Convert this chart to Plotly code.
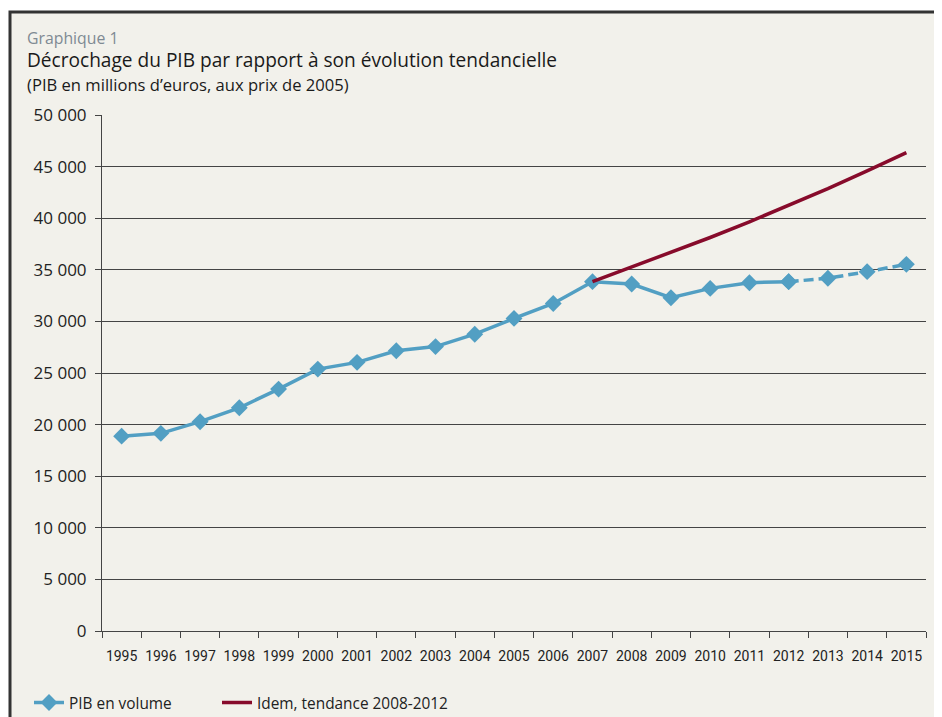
import plotly.graph_objects as go

years = [str(y) for y in range(1995, 2016)]
pib = [18880, 19150, 20280, 21630, 23440, 25380, 26030, 27150, 27560, 28760,
       30290, 31740, 33850, 33620, 32290, 33200, 33750, 33850, 34180, 34820, 35530]
trend_years = [str(y) for y in range(2007, 2016)]
trend = [33850, 35265, 36670, 38130, 39650, 41230, 42870, 44580, 46350]

solid_years = years[:18]
solid_vals = pib[:18]
dash_years = years[17:]
dash_vals = pib[17:]

BLUE = "#529fc3"
RED = "#870b2b"
BG = "#f2f1eb"
OFF = 8  # page body margin
W, H = 942 - OFF, 717 - OFF
L, R, T, B = 94, 16, 107, 86
PW, PH = W - L - R, H - T - B

def px(xs):
    return (xs - OFF - L) / PW

def py(ys):
    return (H - B - (ys - OFF)) / PH

TXT = "'Open Sans', Roboto, 'DejaVu Sans', sans-serif"

fig = go.Figure()
fig.add_trace(go.Scatter(x=solid_years, y=solid_vals, mode="lines+markers",
                         name="PIB en volume", legend="legend",
                         line=dict(color=BLUE, width=3.5),
                         marker=dict(symbol="diamond", size=13, color=BLUE)))
fig.add_trace(go.Scatter(x=dash_years, y=dash_vals, mode="lines+markers",
                         showlegend=False,
                         line=dict(color=BLUE, width=3.5, dash="10px,5px"),
                         marker=dict(symbol="diamond", size=13, color=BLUE)))
fig.add_trace(go.Scatter(x=trend_years, y=trend, mode="lines",
                         name="Idem, tendance 2008-2012", legend="legend2",
                         line=dict(color=RED, width=3.5)))

fig.add_shape(type="rect", xref="paper", yref="paper",
              x0=px(10), x1=px(960), y0=py(740), y1=py(12),
              fillcolor=BG, line=dict(color="#333333", width=3), layer="below")

fig.add_annotation(text="Graphique 1", xref="paper", yref="paper",
                   x=px(25), y=py(38), xanchor="left", yanchor="middle",
                   showarrow=False, font=dict(family=TXT, size=15.8, color="#7f8a93"))
fig.add_annotation(text="Décrochage du PIB par rapport à son évolution tendancielle",
                   xref="paper", yref="paper", x=px(25), y=py(60),
                   xanchor="left", yanchor="middle", showarrow=False,
                   font=dict(family=TXT, size=19.1, color="#1a1a1a"))
fig.add_annotation(text="(PIB en millions d’euros, aux prix de 2005)",
                   xref="paper", yref="paper", x=px(25), y=py(85),
                   xanchor="left", yanchor="middle", showarrow=False,
                   font=dict(family=TXT, size=16.6, color="#1a1a1a"))

leg_common = dict(orientation="h", yanchor="middle", y=py(703), xanchor="left",
                  bgcolor="rgba(0,0,0,0)", font=dict(family=TXT, size=15.4, color="#222222"))

fig.update_layout(
    width=W, height=H,
    margin=dict(l=L, r=R, t=T, b=B, pad=0, autoexpand=False),
    paper_bgcolor="white", plot_bgcolor="rgba(0,0,0,0)",
    separators=", ",
    font=dict(family=TXT, color="#222222"),
    showlegend=True,
    legend=dict(x=px(29), **leg_common),
    legend2=dict(x=px(217), **leg_common),
    xaxis=dict(type="category", categoryorder="array", categoryarray=years,
               range=[-0.5, 20.5],
               tickson="boundaries", ticks="outside", ticklen=6, tickcolor="#444444",
               showline=True, linecolor="#444444", linewidth=1, showgrid=False,
               tickangle=0, ticklabelstandoff=12,
               tickfont=dict(family="Roboto, sans-serif", size=14, color="#222222"),
               fixedrange=True),
    yaxis=dict(range=[0, 50000], tick0=0, dtick=5000, tickformat=",d",
               ticks="outside", ticklen=6, tickcolor="#444444",
               showline=True, linecolor="#444444", linewidth=1,
               showgrid=True, gridcolor="#444444", gridwidth=1, zeroline=False,
               ticklabelstandoff=5,
               tickfont=dict(family=TXT, size=17, color="#222222"),
               fixedrange=True),
)

fig.write_html("out.html")
